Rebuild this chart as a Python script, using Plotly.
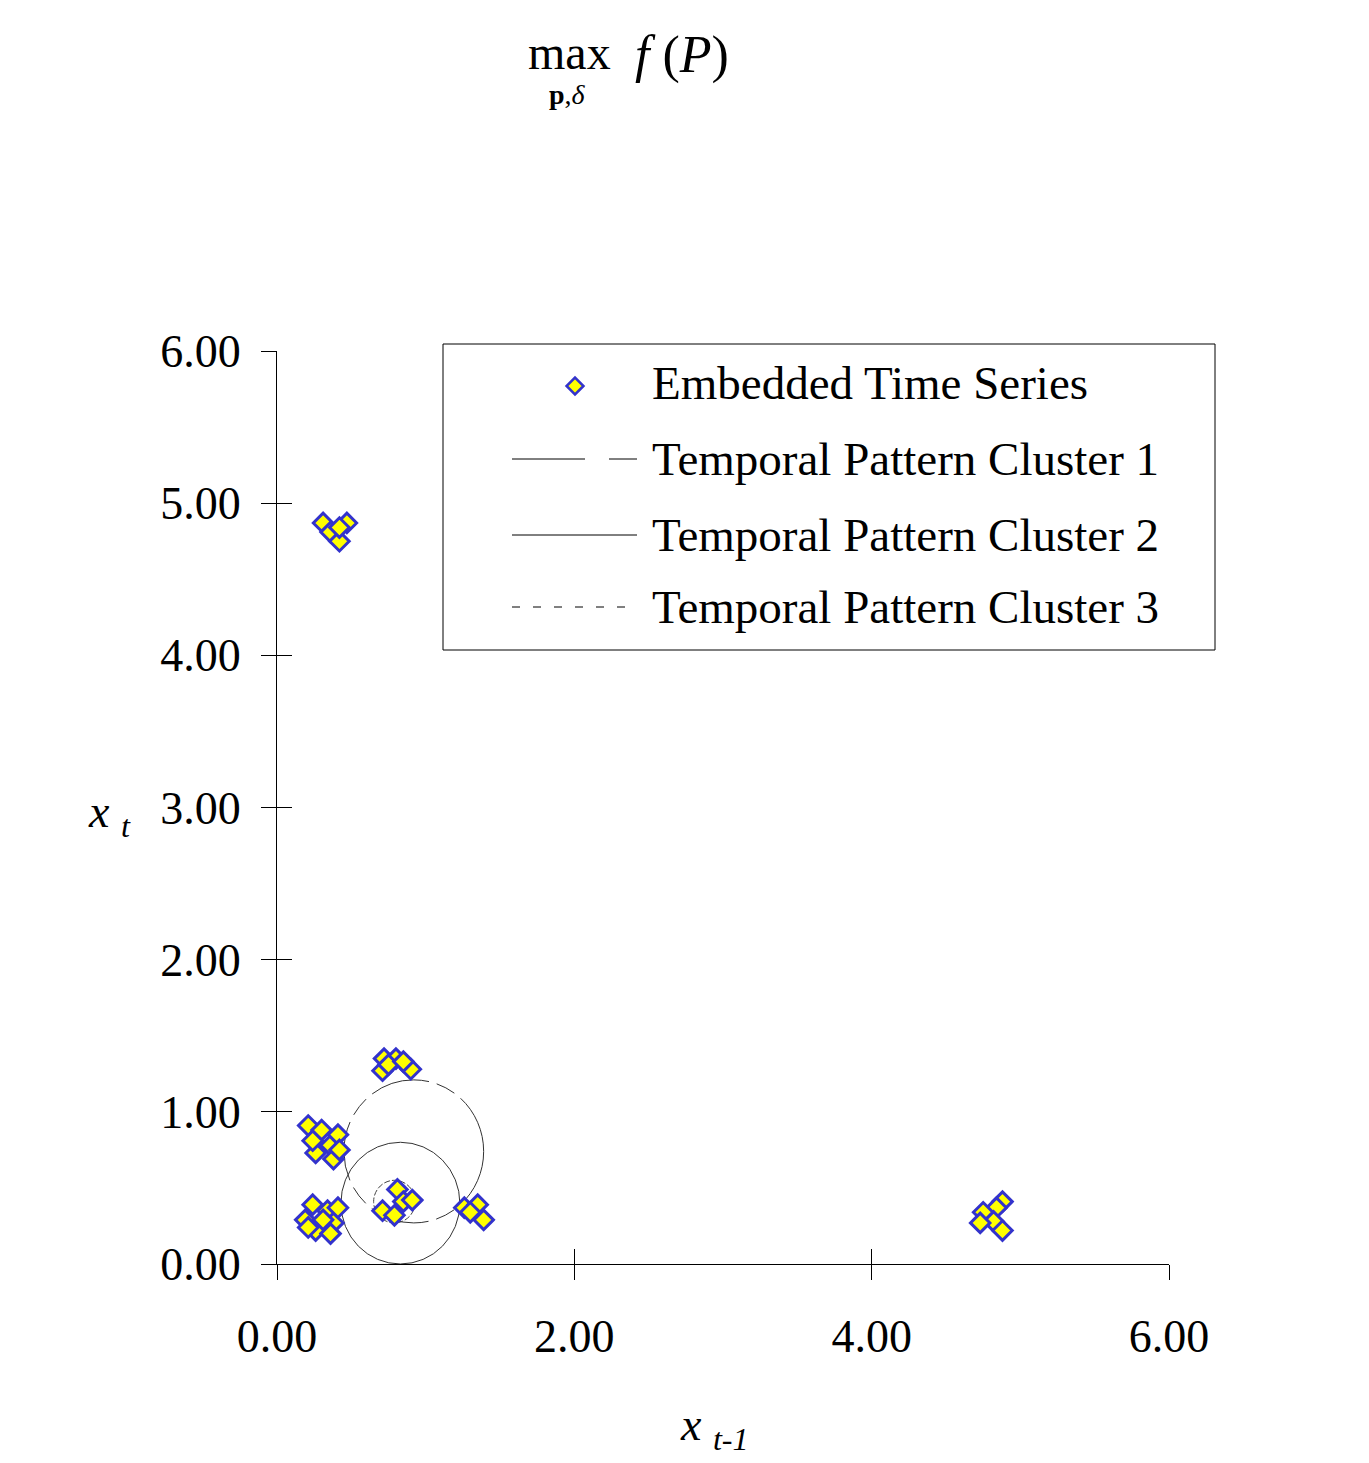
import plotly.graph_objects as go

# ---------------- data ----------------
series_x = [0.31, 0.47, 0.36, 0.42, 0.42,
            0.72, 0.80, 0.90, 0.71, 0.75, 0.85,
            0.21, 0.36, 0.26, 0.41, 0.38, 0.30, 0.24, 0.42,
            0.24, 0.34, 0.26, 0.38, 0.19, 0.41, 0.31, 0.36, 0.21,
            0.81, 0.85, 0.91, 0.71, 0.79,
            1.26, 1.35, 1.39, 1.30,
            4.88, 4.84, 4.75, 4.82, 4.73, 4.88]
series_y = [4.87, 4.87, 4.81, 4.75, 4.84,
            1.35, 1.35, 1.28, 1.27, 1.31, 1.33,
            0.91, 0.78, 0.73, 0.85, 0.69, 0.88, 0.81, 0.75,
            0.39, 0.35, 0.22, 0.27, 0.29, 0.37, 0.29, 0.20, 0.24,
            0.49, 0.41, 0.42, 0.35, 0.32,
            0.37, 0.39, 0.29, 0.34,
            0.41, 0.37, 0.34, 0.28, 0.27, 0.22]

cluster_names = ["Temporal Pattern Cluster 1", "Temporal Pattern Cluster 2",
                 "Temporal Pattern Cluster 3"]
cluster_cx = [0.92, 0.83, 0.79]
cluster_cy = [0.74, 0.40, 0.41]
cluster_r = [0.47, 0.40, 0.14]

x_ticks = [0, 2, 4, 6]
x_ticktext = ["0.00", "2.00", "4.00", "6.00"]
y_ticks = [0, 1, 2, 3, 4, 5, 6]
y_ticktext = ["0.00", "1.00", "2.00", "3.00", "4.00", "5.00", "6.00"]

# ---------------- layout helpers ----------------
W, H = 1369, 1463
L, R, T, B = 277, 1169, 351, 1264
FONT = "Liberation Serif"


def px_x(px):
    return (px - L) / (R - L)


def px_y(py):
    return (B - py) / (B - T)


def dx(px):
    return (px - L) / (R - L) * 6


def dy(py):
    return (B - py) / (B - T) * 6


fig = go.Figure()

fig.add_trace(go.Scatter(
    x=series_x, y=series_y, mode="markers", name="Embedded Time Series",
    marker=dict(symbol="diamond", size=15, color="#FFFF00",
                line=dict(color="#3333CC", width=3)),
    showlegend=False, cliponaxis=False))

# legend marker (decoration)
fig.add_trace(go.Scatter(
    x=[dx(575)], y=[dy(386)], mode="markers", hoverinfo="skip",
    marker=dict(symbol="diamond", size=13, color="#FFFF00",
                line=dict(color="#3333CC", width=2.5)),
    showlegend=False, cliponaxis=False))

# dummy traces for overlay axes (crossing ticks)
fig.add_trace(go.Scatter(x=[None], y=[None], xaxis="x2", yaxis="y",
                         showlegend=False, hoverinfo="skip"))
fig.add_trace(go.Scatter(x=[None], y=[None], xaxis="x", yaxis="y2",
                         showlegend=False, hoverinfo="skip"))

circle_dash = ["60px,8px,20px,8px", "solid", "6px,2px"]
circle_col = ["#333333", "#333333", "#444444"]
for cx, cy, r, d, c in zip(cluster_cx, cluster_cy, cluster_r, circle_dash, circle_col):
    fig.add_shape(type="circle", xref="x", yref="y",
                  x0=cx - r, x1=cx + r, y0=cy - r, y1=cy + r,
                  line=dict(color=c, width=1, dash=d), layer="below")

# custom legend
fig.add_shape(type="rect", xref="paper", yref="paper",
              x0=px_x(443), x1=px_x(1215), y0=px_y(650), y1=px_y(344),
              line=dict(color="black", width=1), fillcolor="rgba(0,0,0,0)")
legend_dash = ["73px,24px,28px,24px", "solid", "8px,13px"]
legend_rows = [459, 535, 607]
for name, d, ry in zip(cluster_names, legend_dash, legend_rows):
    fig.add_shape(type="line", xref="paper", yref="paper",
                  x0=px_x(512), x1=px_x(637), y0=px_y(ry), y1=px_y(ry),
                  line=dict(color="black", width=1, dash=d))
    fig.add_annotation(text=name, xref="paper", yref="paper",
                       x=px_x(650), y=px_y(ry), xanchor="left", yanchor="middle",
                       showarrow=False, font=dict(family=FONT, size=47, color="black"))
fig.add_annotation(text="Embedded Time Series", xref="paper", yref="paper",
                   x=px_x(650), y=px_y(383), xanchor="left", yanchor="middle",
                   showarrow=False, font=dict(family=FONT, size=47, color="black"))

# title
fig.add_annotation(text="max", xref="paper", yref="paper", x=px_x(569), y=px_y(52),
                   xanchor="center", yanchor="middle", showarrow=False,
                   font=dict(family=FONT, size=48, color="black"))
fig.add_annotation(text="<b>p</b>,<i>δ</i>", xref="paper", yref="paper",
                   x=px_x(567), y=px_y(94), xanchor="center", yanchor="middle",
                   showarrow=False, font=dict(family=FONT, size=28, color="black"))
fig.add_annotation(text="<i>f</i> (<i>P</i>)", xref="paper", yref="paper",
                   x=px_x(682), y=px_y(55), xanchor="center", yanchor="middle",
                   showarrow=False, font=dict(family=FONT, size=52, color="black"))

# axis titles
fig.add_annotation(text="<i>x</i> <sub><i>t</i></sub>", xref="paper", yref="paper",
                   x=px_x(86), y=px_y(815), xanchor="left", yanchor="middle",
                   showarrow=False, font=dict(family=FONT, size=46, color="black"))
fig.add_annotation(text="<i>x</i> <sub><i>t-1</i></sub>", xref="paper", yref="paper",
                   x=px_x(678), y=px_y(1428), xanchor="left", yanchor="middle",
                   showarrow=False, font=dict(family=FONT, size=46, color="black"))

axis_common = dict(range=[0, 6], showgrid=False, zeroline=False, fixedrange=True)
fig.update_layout(
    width=W, height=H,
    margin=dict(l=L, r=W - R, t=T, b=H - B, pad=0),
    paper_bgcolor="white", plot_bgcolor="white",
    showlegend=False,
    font=dict(family=FONT, color="black"),
    xaxis=dict(**axis_common, tickvals=x_ticks, ticktext=x_ticktext,
               ticks="outside", ticklen=15, tickwidth=1, tickcolor="black",
               showline=True, linecolor="black", linewidth=1,
               tickfont=dict(family=FONT, size=46, color="black"),
               ticklabelstandoff=17),
    yaxis=dict(**axis_common, tickvals=y_ticks, ticktext=y_ticktext,
               ticks="outside", ticklen=15, tickwidth=1, tickcolor="black",
               showline=True, linecolor="black", linewidth=1,
               tickfont=dict(family=FONT, size=46, color="black"),
               ticklabelstandoff=11),
    xaxis2=dict(**axis_common, overlaying="x", anchor="y", side="bottom",
                tickvals=x_ticks, ticks="inside", ticklen=15, tickwidth=1,
                tickcolor="black", showticklabels=False, showline=False),
    yaxis2=dict(**axis_common, overlaying="y", anchor="x", side="left",
                tickvals=y_ticks, ticks="inside", ticklen=15, tickwidth=1,
                tickcolor="black", showticklabels=False, showline=False),
)

fig.write_html("out.html")
